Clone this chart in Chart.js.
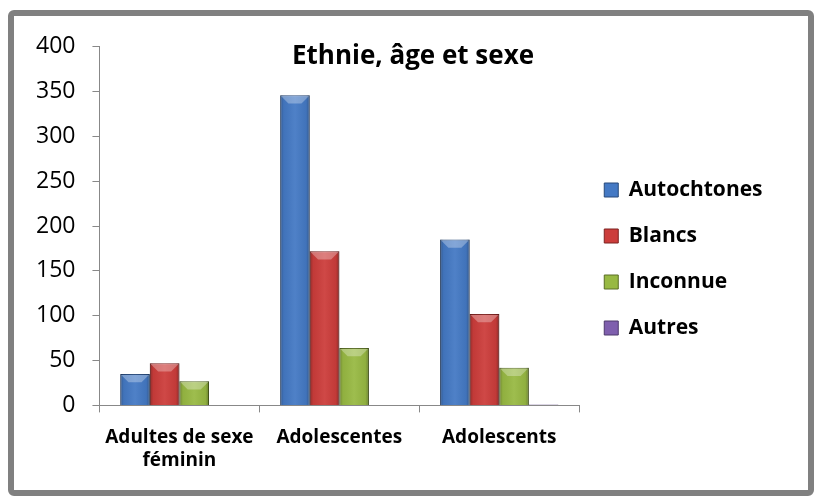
<!DOCTYPE html>
<html>
<head>
<meta charset="utf-8">
<script src="https://cdn.jsdelivr.net/npm/chart.js@4.4.1/dist/chart.umd.min.js"></script>
<style>
    body { margin: 0; background: #fff; }
    #cadre {
        position: absolute; left: 8px; top: 10px;
        width: 794px; height: 474px;
        border: 6px solid #808080; border-radius: 6px;
        background: #fff;
    }
</style>
</head>
<body>
<div id="cadre"><canvas id="graphCanvas" width="794" height="474"></canvas></div>
<script>
// catégories et valeurs
let categories = [['Adultes de sexe', 'féminin'], 'Adolescentes', 'Adolescents'];
let autochtones = [35, 346, 185];
let blancs = [47, 172, 102];
let inconnue = [27, 64, 42];
let autres = [0, 0, 1];
let yTicks = [0, 50, 100, 150, 200, 250, 300, 350, 400];
let titre = 'Ethnie, âge et sexe';

let police = '"Open Sans", Lato, sans-serif';

// effet de relief sur chaque barre
const reliefBarres = {
    id: 'reliefBarres',
    afterDatasetsDraw(chart) {
        let ctx = chart.ctx;
        chart.data.datasets.forEach(function(ds, i) {
            chart.getDatasetMeta(i).data.forEach(function(bar) {
                let w = bar.width;
                let x0 = bar.x - w / 2, x1 = bar.x + w / 2;
                let top = bar.y, bas = bar.base;
                let h = bas - top;
                if (h < 2) return;
                ctx.save();
                let g = ctx.createLinearGradient(x0, 0, x1, 0);
                g.addColorStop(0, 'rgba(0,0,0,0.28)');
                g.addColorStop(0.12, 'rgba(0,0,0,0.05)');
                g.addColorStop(0.5, 'rgba(255,255,255,0.06)');
                g.addColorStop(0.88, 'rgba(0,0,0,0.05)');
                g.addColorStop(1, 'rgba(0,0,0,0.3)');
                ctx.fillStyle = g;
                ctx.fillRect(x0, top, w, h);
                // biseau du haut
                let d = Math.min(w * 0.28, h / 2);
                ctx.beginPath();
                ctx.moveTo(x0 + 1, top + 1);
                ctx.lineTo(x1 - 1, top + 1);
                ctx.lineTo(x1 - d, top + d);
                ctx.lineTo(x0 + d, top + d);
                ctx.closePath();
                ctx.fillStyle = 'rgba(255,255,255,0.3)';
                ctx.fill();
                ctx.restore();
            });
        });
    }
};

// titre dessiné dans la zone du graphique
const titreInterne = {
    id: 'titreInterne',
    afterDraw(chart) {
        let ctx = chart.ctx;
        ctx.save();
        ctx.font = 'bold 26px ' + police;
        ctx.fillStyle = '#000';
        ctx.textAlign = 'center';
        ctx.textBaseline = 'middle';
        ctx.fillText(titre, chart.width / 2 + 2, 41);
        ctx.restore();
    }
};

let graphCanvas = document.getElementById('graphCanvas').getContext('2d');
let barChart = new Chart(graphCanvas, {
    type: 'bar',
    data: {
        labels: categories,
        datasets: [
            { label: 'Autochtones', data: autochtones, backgroundColor: '#4479c4', borderColor: '#27497a' },
            { label: 'Blancs', data: blancs, backgroundColor: '#cc3d3b', borderColor: '#7d2321' },
            { label: 'Inconnue', data: inconnue, backgroundColor: '#98b943', borderColor: '#5a6e26' },
            { label: 'Autres', data: autres, backgroundColor: '#7f5fae', borderColor: '#4e3a6c' }
        ]
    },
    options: {
        responsive: false,
        animation: false,
        layout: { padding: { top: 16, left: 5, right: 42, bottom: 4 } },
        datasets: {
            bar: { categoryPercentage: 0.74, barPercentage: 1, borderWidth: 1 }
        },
        plugins: {
            title: { display: false },
            tooltip: { enabled: false },
            legend: {
                position: 'right',
                labels: {
                    boxWidth: 14,
                    boxHeight: 14,
                    padding: 25,
                    color: '#000',
                    font: { family: police, size: 21, weight: 'bold' }
                }
            }
        },
        scales: {
            x: {
                grid: { drawOnChartArea: false, offset: true, tickLength: 7, color: '#888' },
                border: { color: '#888' },
                ticks: {
                    color: '#000',
                    maxRotation: 0,
                    padding: 14,
                    font: { family: police, size: 19, weight: 'bold', lineHeight: 1.2 }
                }
            },
            y: {
                min: 0,
                max: 400,
                afterBuildTicks(axis) {
                    axis.ticks = yTicks.map(function(v) { return { value: v }; });
                },
                grid: { drawOnChartArea: false, tickLength: 7, color: '#888' },
                border: { color: '#888' },
                ticks: {
                    color: '#000',
                    padding: 17,
                    font: { family: police, size: 23 }
                }
            }
        }
    },
    plugins: [reliefBarres, titreInterne]
});
</script>
</body>
</html>
